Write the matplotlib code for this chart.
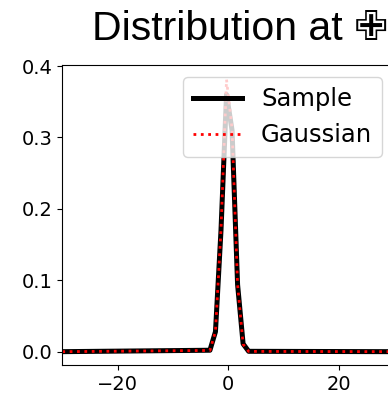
import matplotlib
matplotlib.use("Agg")
import matplotlib.pyplot as plt

# density curve sampled around the peak; flat zero tails out to +-30
x_vals = [-30, -3.3, -2.3, -1.3, -0.3, 0.7, 1.7, 2.7, 3.7, 30]
sample_vals = [0.0, 0.002, 0.028, 0.170, 0.360, 0.310, 0.094, 0.011, 0.0005, 0.0]
gauss_vals = [0.0, 0.0017, 0.0283, 0.171, 0.381, 0.312, 0.094, 0.0104, 0.0004, 0.0]

title_text = "Distribution at \u2719"

fig = plt.figure(figsize=(3.88, 3.96), dpi=100)
ax = fig.add_axes([0.1606, 0.0775, 0.855, 0.7576])

ax.plot(x_vals, sample_vals, color="black", lw=3.6, label="Sample")
ax.plot(x_vals, gauss_vals, color="red", ls=":", lw=2, label="Gaussian")

ax.set_xlim(-30, 30)
ax.set_ylim(-0.0191, 0.401)
ax.set_xticks([-20, 0, 20])
ax.set_yticks([0.0, 0.1, 0.2, 0.3, 0.4])
ax.tick_params(labelsize=14)

ax.legend(loc="upper right", fontsize=17.5)

fig.text(92 / 388, 1 - 40 / 396, title_text, ha="left", va="baseline",
         fontsize=29.5, family=["Liberation Sans", "DejaVu Sans"])

fig.savefig("out.png", dpi=100)
